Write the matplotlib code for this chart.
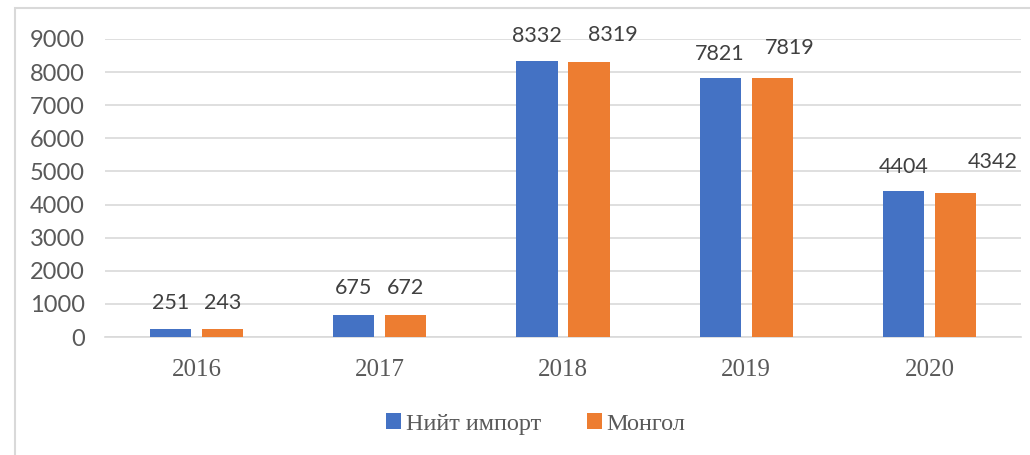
import numpy as np
import matplotlib.pyplot as plt
from matplotlib.patches import Rectangle

# data
years = ['2016', '2017', '2018', '2019', '2020']
total_import = [251, 675, 8332, 7821, 4404]
mongol = [243, 672, 8319, 7819, 4342]
series_names = ['Нийт импорт', 'Монгол']

# label nudges in pixels (dx, dy) - excel moved a few of them
nudge_total = [(0, 26), (0, 27), (0, 25), (0, 24), (0, 24)]
nudge_mongol = [(0, 26), (0, 27), (24, 27), (18, 30), (37, 31)]

blue = '#4472C4'
orange = '#ED7D31'
grid_col = '#D9D9D9'
txt_col = '#595959'

fig = plt.figure(figsize=(10.3, 4.55), dpi=100)
W, H = 1030, 455

# outer chart frame (only top and left visible in crop)
fig.patches.append(Rectangle((15 / W, -0.1), 1.2, 1 - 8 / H + 0.1, transform=fig.transFigure,
                             fill=False, edgecolor=grid_col, linewidth=1.5))

ax = fig.add_axes([105 / W, 118 / H, (1021 - 105) / W, (416 - 118) / H])

x = np.arange(len(years))
bw = 0.224
off = 0.142
b1 = ax.bar(x - off, total_import, bw, color=blue, label=series_names[0], zorder=3)
b2 = ax.bar(x + off, mongol, bw, color=orange, label=series_names[1], zorder=3)

for bars, vals, nudges in [(b1, total_import, nudge_total), (b2, mongol, nudge_mongol)]:
    for bar, v, (dx, dy) in zip(bars, vals, nudges):
        ax.annotate(str(v), (bar.get_x() + bar.get_width() / 2, v),
                    xytext=(dx, dy), textcoords='offset pixels',
                    ha='center', va='center', fontsize=15.5, family='Lato', color='#404040')

ax.set_xlim(-0.5, len(years) - 0.5)
ax.set_ylim(0, 9000)
ax.set_yticks(np.arange(0, 9001, 1000))
ax.yaxis.grid(True, color=grid_col, linewidth=1.2, zorder=0)
ax.set_axisbelow(True)
for s in ['top', 'right', 'left']:
    ax.spines[s].set_visible(False)
ax.spines['bottom'].set_color(grid_col)
ax.spines['bottom'].set_linewidth(1.2)
ax.tick_params(axis='both', length=0)
ax.tick_params(axis='y', pad=14.5, labelsize=17, labelcolor=txt_col)
ax.tick_params(axis='x', pad=16, labelsize=18, labelcolor=txt_col)
for lab in ax.get_yticklabels():
    lab.set_family('Lato')
ax.set_xticks(x)
ax.set_xticklabels(years, family='Liberation Serif')

ax.legend(loc='center', bbox_to_anchor=(536 / W, (H - 424) / H), bbox_transform=fig.transFigure,
          ncol=2, frameon=False, prop={'family': 'Liberation Serif', 'size': 17.5},
          handlelength=0.6, handleheight=0.6, handletextpad=0.2, columnspacing=1.9,
          labelcolor=txt_col)

fig.savefig('out.png', dpi=100)
